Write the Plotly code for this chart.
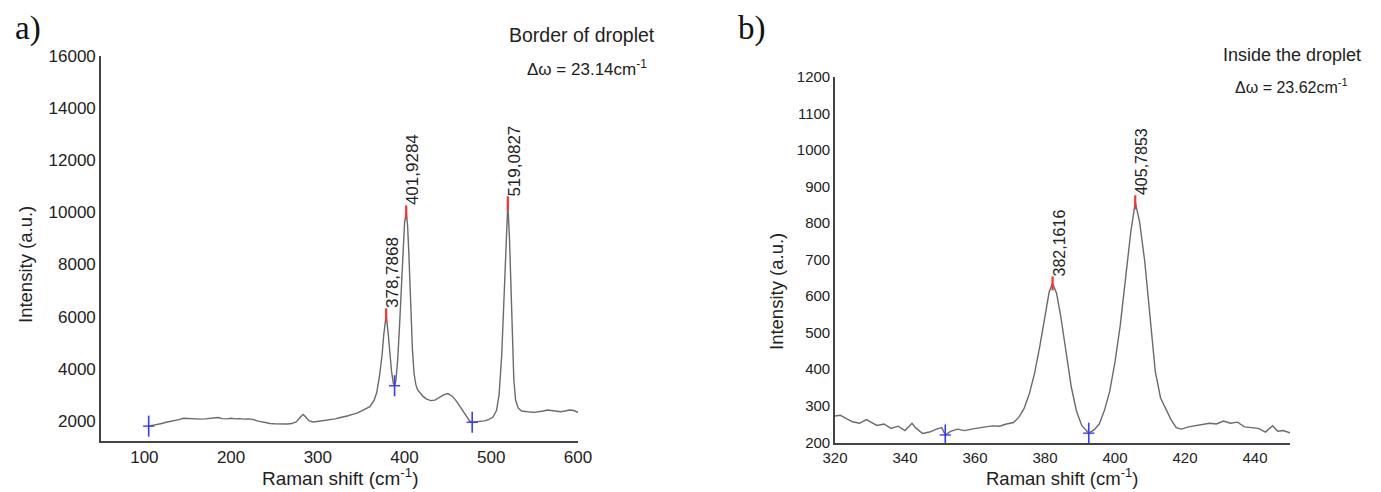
import plotly.graph_objects as go

# ---------------- data: panel a (border of droplet) ----------------
a_shift = [105, 110, 115, 120, 125, 130, 135, 140, 145, 150, 155, 160, 165, 170, 175, 180, 185, 190, 195,
           200, 205, 210, 215, 220, 225, 230, 235, 240, 245, 250, 255, 260, 265, 270, 275, 280, 283, 286,
           290, 295, 300, 305, 310, 315, 320, 325, 330, 335, 340, 345, 350, 355, 360, 365, 368, 371, 374,
           376, 378.8, 381, 383, 385, 387, 388.5, 390, 392, 394, 396, 398, 400, 401.9, 403.5, 405, 407,
           409, 411, 413, 415, 418, 421, 425, 430, 435, 440, 445, 450, 455, 460, 465, 470, 475, 478, 482,
           487, 492, 497, 502, 506, 509, 512, 514.5, 517, 519.1, 521, 523.5, 526, 528, 531, 535, 540, 545,
           550, 555, 560, 565, 570, 575, 580, 585, 590, 595, 600]
a_int = [1800, 1830, 1870, 1900, 1950, 1980, 2000, 2050, 2100, 2090, 2080, 2060, 2070, 2080, 2090, 2110, 2130,
         2090, 2080, 2100, 2080, 2090, 2070, 2080, 2060, 2000, 1960, 1930, 1900, 1890, 1880, 1870, 1880, 1900,
         1960, 2150, 2250, 2150, 2000, 1960, 1980, 2000, 2020, 2050, 2080, 2120, 2150, 2200, 2250, 2300, 2380,
         2450, 2550, 2800, 3100, 3700, 4500, 5300, 6050, 5400, 4600, 3900, 3450, 3350, 3550, 4300, 5500, 7000,
         8500, 9600, 10000, 9500, 8400, 6600, 4800, 3800, 3400, 3200, 3050, 2950, 2850, 2780, 2800, 2900, 3000,
         3050, 2950, 2750, 2500, 2200, 2000, 1950, 1960, 1980, 2000, 2050, 2150, 2400, 3000, 4500, 6500, 9000,
         10350, 9000, 6200, 3600, 2800, 2500, 2380, 2350, 2340, 2330, 2350, 2380, 2420, 2390, 2360, 2350, 2380,
         2420, 2400, 2330]
a_peak_x = [378.7868, 401.9284, 519.0827]
a_peak_y = [6050, 10000, 10350]
a_peak_labels = ["378,7868", "401,9284", "519,0827"]
a_min_x = [105, 388.5, 478]
a_min_y = [1800, 3350, 1950]
a_yticks = [2000, 4000, 6000, 8000, 10000, 12000, 14000, 16000]
a_xticks = [100, 200, 300, 400, 500, 600]

# ---------------- data: panel b (inside the droplet) ----------------
b_shift = [320, 321.5, 323, 325, 327, 329, 330.5, 332, 334, 336, 338, 340, 342, 343, 345, 347, 349, 350.5,
           351.5, 353, 355, 357, 359, 361, 363, 365, 367, 369, 371, 372.5, 374, 375.5, 377, 378.5, 380, 381.2,
           382.16, 383.3, 384.5, 386, 387.5, 389, 390.5, 392.5, 394, 395.5, 397, 398.5, 400, 401.5, 403, 404.5,
           405.79, 407, 408.5, 410, 411.5, 413, 414.5, 416, 417.5, 419, 421, 423, 425, 427, 429, 431, 433, 435,
           437, 439, 441, 443, 445, 446.5, 448, 450]
b_int = [272, 274, 266, 256, 252, 262, 254, 246, 250, 238, 244, 232, 252, 240, 224, 228, 236, 240, 220, 230,
         236, 232, 236, 240, 242, 245, 244, 250, 254, 268, 292, 332, 388, 462, 552, 612, 635, 608, 545, 445,
         352, 285, 246, 225, 234, 250, 288, 340, 420, 520, 645, 775, 857, 805, 695, 535, 395, 322, 292, 262,
         240, 236, 242, 245, 248, 252, 250, 258, 252, 255, 242, 240, 238, 228, 245, 230, 232, 226]
b_peak_x = [382.1616, 405.7853]
b_peak_y = [635, 857]
b_peak_labels = ["382,1616", "405,7853"]
b_min_x = [351.5, 392.5]
b_min_y = [220, 225]
b_yticks = [200, 300, 400, 500, 600, 700, 800, 900, 1000, 1100, 1200]
b_xticks = [320, 340, 360, 380, 400, 420, 440]

# ---------------- layout helpers (screen pixel -> paper) ----------------
W, H = 1381, 492
OFF = 8  # page body margin offsets the figure on screen


def px(x):
    return (x - OFF) / W


def py(y):
    return 1 - (y - OFF) / H


FONT = "Liberation Sans, Arial, sans-serif"
SERIF = "Liberation Serif, Times New Roman, serif"
LINE = "#6a6a6a"
AXIS = "#444444"
TXT = "#222222"
RED = "#ff3030"
BLUE = "#3a3aff"

fig = go.Figure()

# spectra
fig.add_trace(go.Scatter(x=a_shift, y=a_int, mode="lines", line=dict(color=LINE, width=1.4),
                         xaxis="x", yaxis="y", showlegend=False, hoverinfo="skip"))
fig.add_trace(go.Scatter(x=b_shift, y=b_int, mode="lines", line=dict(color=LINE, width=1.4),
                         xaxis="x2", yaxis="y2", showlegend=False, hoverinfo="skip"))

# peak and minimum markers
for xs, ys, xa, ya in [(a_peak_x, a_peak_y, "x", "y"), (b_peak_x, b_peak_y, "x2", "y2")]:
    fig.add_trace(go.Scatter(x=xs, y=ys, mode="markers", xaxis=xa, yaxis=ya, showlegend=False,
                             marker=dict(symbol="line-ns", size=10, line=dict(color=RED, width=2.2))))
for xs, ys, xa, ya in [(a_min_x, a_min_y, "x", "y"), (b_min_x, b_min_y, "x2", "y2")]:
    fig.add_trace(go.Scatter(x=xs, y=ys, mode="markers", xaxis=xa, yaxis=ya, showlegend=False,
                             marker=dict(symbol="line-ns", size=15, line=dict(color=BLUE, width=1.6))))
    fig.add_trace(go.Scatter(x=xs, y=ys, mode="markers", xaxis=xa, yaxis=ya, showlegend=False,
                             marker=dict(symbol="line-ew", size=8, line=dict(color=BLUE, width=1.4))))


def axis(size):
    return dict(showline=True, linecolor=AXIS, linewidth=1.6, showgrid=False, zeroline=False,
                ticks="", automargin=False, tickfont=dict(family=FONT, size=size, color=TXT), mirror=False)


fig.update_layout(
    template="none",
    width=W, height=H, autosize=False,
    margin=dict(l=0, r=0, t=0, b=0, pad=0, autoexpand=False),
    paper_bgcolor="white", plot_bgcolor="white",
    xaxis=dict(domain=[px(101), px(578)], range=[50, 600], tickvals=a_xticks,
               ticktext=[str(v) for v in a_xticks], anchor="y", **axis(17)),
    yaxis=dict(domain=[py(441), py(56)], range=[1230, 16000], tickvals=a_yticks,
               ticktext=[str(v) for v in a_yticks], anchor="x", **axis(17)),
    xaxis2=dict(domain=[px(835), px(1290)], range=[320, 450], tickvals=b_xticks,
                ticktext=[str(v) for v in b_xticks], anchor="y2", **axis(15)),
    yaxis2=dict(domain=[py(443), py(77)], range=[198, 1200], tickvals=b_yticks,
                ticktext=[str(v) for v in b_yticks], anchor="x2", **axis(15)),
)

ann = []
# peak labels
for xs, ys, labs, xa, ya, fs in [(a_peak_x, a_peak_y, a_peak_labels, "x", "y", 17),
                                 (b_peak_x, b_peak_y, b_peak_labels, "x2", "y2", 16)]:
    for x, y, t in zip(xs, ys, labs):
        ann.append(dict(x=x, y=y, xref=xa, yref=ya, text=t, showarrow=False, textangle=-90,
                        xanchor="center", yanchor="bottom", xshift=7, yshift=5,
                        font=dict(family=FONT, size=fs, color=TXT)))

# axis titles
xt = "Raman shift (cm<sup>-1</sup>)"
yt = "Intensity (a.u.)"
ann += [
    dict(x=px(340), y=py(477), text=xt, font=dict(family=FONT, size=19, color=TXT)),
    dict(x=px(1062), y=py(477), text=xt, font=dict(family=FONT, size=18.5, color=TXT)),
    dict(x=px(25), y=py(265), text=yt, textangle=-90, font=dict(family=FONT, size=18.5, color=TXT)),
    dict(x=px(776), y=py(292), text=yt, textangle=-90, font=dict(family=FONT, size=18.5, color=TXT)),
]
# panel letters
ann += [
    dict(x=px(28), y=py(28), text="a)", font=dict(family=SERIF, size=33, color="#111")),
    dict(x=px(752), y=py(28), text="b)", font=dict(family=SERIF, size=33, color="#111")),
]
# notes
ann += [
    dict(x=px(507), y=py(35), xanchor="left", text="Border of droplet", font=dict(family=FONT, size=19.5, color=TXT)),
    dict(x=px(525), y=py(68), xanchor="left", text="\u0394\u03c9 = 23.14cm<sup>-1</sup>", font=dict(family=FONT, size=17, color=TXT)),
    dict(x=px(1221), y=py(55), xanchor="left", text="Inside the droplet", font=dict(family=FONT, size=18, color=TXT)),
    dict(x=px(1233), y=py(86), xanchor="left", text="\u0394\u03c9 = 23.62cm<sup>-1</sup>", font=dict(family=FONT, size=16, color=TXT)),
]
for a in ann:
    a.setdefault("xref", "paper")
    a.setdefault("yref", "paper")
    a.setdefault("showarrow", False)
    a.setdefault("xanchor", "center")
    a.setdefault("yanchor", "middle")
fig.update_layout(annotations=ann)

fig.write_html("out.html")
